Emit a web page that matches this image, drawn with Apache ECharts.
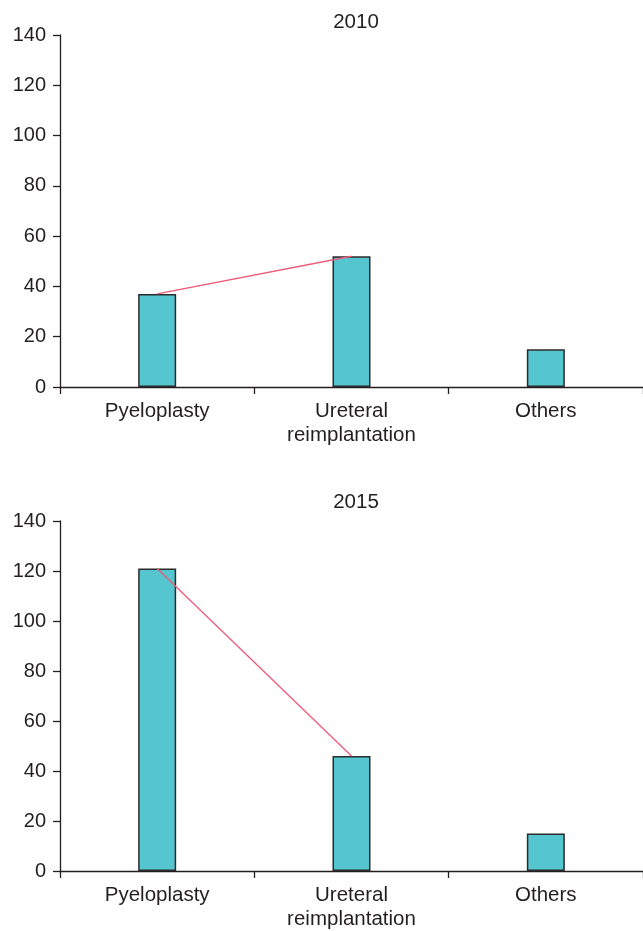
<!DOCTYPE html>
<html>
<head>
<meta charset="utf-8">
<script src="https://cdn.jsdelivr.net/npm/echarts@6/dist/echarts.min.js"></script>
<style>
html,body{margin:0;padding:0;background:#fff;}
#chart{width:643px;height:931px;}
</style>
</head>
<body>
<div id="chart"></div>
<script>
const categories = ['Pyeloplasty', 'Ureteral\nreimplantation', 'Others'];
const panelTitles = ['2010', '2015'];
const values2010 = [37, 52, 15];
const values2015 = [121, 46, 15];
const trend2010 = [37, 52, null];
const trend2015 = [121, 46, null];
const yTicks = [0, 20, 40, 60, 80, 100, 120, 140];

const font = 'Liberation Sans, Arial, Helvetica, sans-serif';
const textColor = '#231f20';
const axisColor = '#231f20';

function xAxis(gridIndex) {
  return {
    type: 'category', gridIndex: gridIndex, data: categories, boundaryGap: true,
    axisLine: {lineStyle: {color: axisColor, width: 1.3}},
    axisTick: {show: true, length: 7, lineStyle: {color: axisColor, width: 1.3}},
    axisLabel: {color: textColor, fontSize: 20.5, fontFamily: font, margin: 12, lineHeight: 24},
    splitLine: {show: false}
  };
}
function yAxis(gridIndex) {
  return {
    type: 'value', gridIndex: gridIndex, min: yTicks[0], max: yTicks[yTicks.length - 1], interval: 20,
    axisLine: {show: true, lineStyle: {color: axisColor, width: 1.3}},
    axisTick: {show: true, length: 7, lineStyle: {color: axisColor, width: 1.3}},
    axisLabel: {color: textColor, fontSize: 20, fontFamily: font, margin: 14},
    splitLine: {show: false}
  };
}
function bars(idx, data) {
  return {
    type: 'bar', xAxisIndex: idx, yAxisIndex: idx, data: data, barWidth: 38,
    itemStyle: {color: '#55c5cf', borderColor: '#2b2b2b', borderWidth: 1.5},
    silent: true, z: 2
  };
}
function trend(idx, data) {
  return {
    type: 'line', xAxisIndex: idx, yAxisIndex: idx, data: data, showSymbol: false,
    lineStyle: {color: '#ee5a78', width: 1.3}, silent: true, z: 5, connectNulls: false
  };
}

const chart = echarts.init(document.getElementById('chart'), null, {renderer: 'canvas'});
chart.setOption({
  animation: false,
  backgroundColor: '#fff',
  title: [
    {text: panelTitles[0], left: 351, top: 7, textAlign: 'center',
     textStyle: {fontSize: 20.5, fontWeight: 'normal', color: textColor, fontFamily: font}},
    {text: panelTitles[1], left: 351, top: 487, textAlign: 'center',
     textStyle: {fontSize: 20.5, fontWeight: 'normal', color: textColor, fontFamily: font}}
  ],
  grid: [
    {left: 60, top: 35, width: 585, height: 352, containLabel: false},
    {left: 60, top: 521, width: 585, height: 352, containLabel: false}
  ],
  xAxis: [xAxis(0), xAxis(1)],
  yAxis: [yAxis(0), yAxis(1)],
  series: [bars(0, values2010), trend(0, trend2010), bars(1, values2015), trend(1, trend2015)]
});
</script>
</body>
</html>
